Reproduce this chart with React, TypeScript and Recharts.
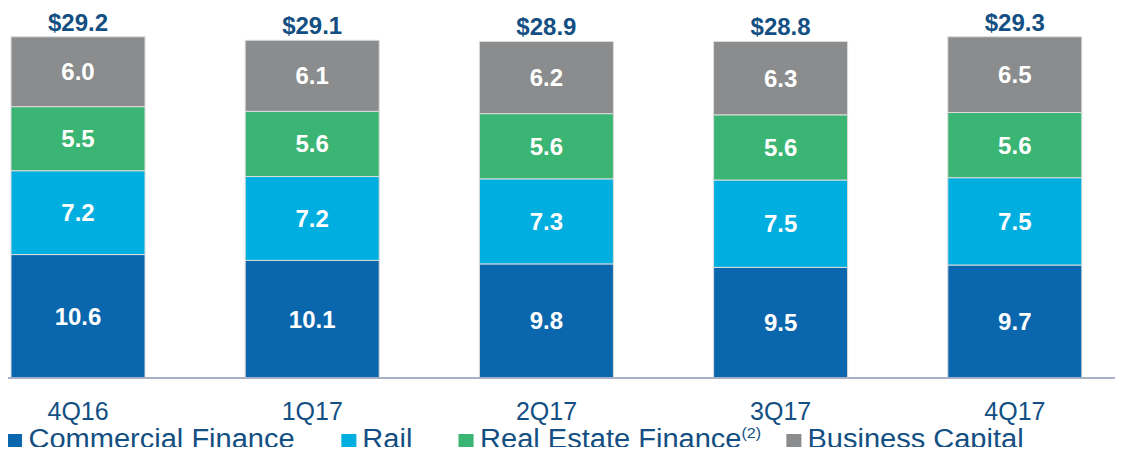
import React from "react";
import { BarChart, Bar, XAxis, YAxis, Legend, LabelList } from "recharts";

const quarters = ["4Q16", "1Q17", "2Q17", "3Q17", "4Q17"];
const commercialFinance = [10.6, 10.1, 9.8, 9.5, 9.7];
const rail = [7.2, 7.2, 7.3, 7.5, 7.5];
const realEstateFinance = [5.5, 5.6, 5.6, 5.6, 5.6];
const businessCapital = [6.0, 6.1, 6.2, 6.3, 6.5];
const totals = [29.2, 29.1, 28.9, 28.8, 29.3];

const series = [
  { key: "commercial", name: "Commercial Finance", color: "#0a67ad", values: commercialFinance },
  { key: "rail", name: "Rail", color: "#00afdf", values: rail },
  { key: "realEstate", name: "Real Estate Finance", sup: "(2)", color: "#3bb573", values: realEstateFinance },
  { key: "business", name: "Business Capital", color: "#8a8c8d", values: businessCapital },
];

const data = quarters.map((q, i) => {
  const row: Record<string, string | number> = { quarter: q, total: totals[i] };
  series.forEach((s) => {
    row[s.key] = s.values[i];
  });
  return row;
});

const FONT = "'Liberation Sans', Arial, sans-serif";
const TEXT_BLUE = "#134f82";
// gaps after each legend item, in unscaled px
const legendGaps = [43, 43, 23, 0];

function LegendContent() {
  return (
    <div
      style={{
        display: "flex",
        alignItems: "center",
        fontFamily: FONT,
        fontSize: 27,
        color: TEXT_BLUE,
        height: 31,
        lineHeight: "31px",
        whiteSpace: "nowrap",
        transform: "scaleX(1.075)",
        transformOrigin: "left center",
      }}
    >
      {series.map((s, i) => (
        <div key={s.key} style={{ display: "flex", alignItems: "center", height: 31, marginRight: legendGaps[i] }}>
          <span style={{ width: 14, height: 15, background: s.color, marginRight: 6, marginTop: 3, display: "inline-block" }} />
          <span style={{ height: 31, lineHeight: "31px" }}>
            {s.name}
            {s.sup && <span style={{ fontSize: 15, position: "relative", top: -10, lineHeight: "15px" }}>{s.sup}</span>}
          </span>
        </div>
      ))}
    </div>
  );
}

export default function App() {
  return (
    <div style={{ margin: -8, width: 1123, height: 455, overflow: "hidden", position: "relative", background: "#fff" }}>
      <div style={{ marginLeft: -39 }}>
        <BarChart width={1171} height={455} data={data} margin={{ top: 0, right: 0, left: 0, bottom: 0 }} barSize={134}>
          <YAxis hide domain={[0, 32.46]} />
          <XAxis
            dataKey="quarter"
            height={46}
            tickLine={false}
            tickSize={0}
            tickMargin={24}
            axisLine={{ stroke: "#a7b0c4", strokeWidth: 2 }}
            tick={{ fill: TEXT_BLUE, fontSize: 25, fontFamily: FONT }}
          />
          <Legend
            verticalAlign="bottom"
            height={31}
            content={<LegendContent />}
            wrapperStyle={{ left: 46, bottom: 0, width: "auto" }}
          />
          {series.map((s, i) => (
            <Bar
              key={s.key}
              dataKey={s.key}
              name={s.name}
              stackId="a"
              fill={s.color}
              stroke="#dcdcdc"
              strokeWidth={1}
              isAnimationActive={false}
            >
              <LabelList
                dataKey={s.key}
                position="center"
                fill="#ffffff"
                fontSize={24}
                fontWeight="bold"
                fontFamily={FONT}
                formatter={(v: number) => v.toFixed(1)}
              />
              {i === series.length - 1 && (
                <LabelList
                  dataKey="total"
                  position="top"
                  offset={6}
                  fill={TEXT_BLUE}
                  fontSize={24}
                  fontWeight="bold"
                  fontFamily={FONT}
                  formatter={(v: number) => `$${v.toFixed(1)}`}
                />
              )}
            </Bar>
          ))}
        </BarChart>
      </div>
    </div>
  );
}
